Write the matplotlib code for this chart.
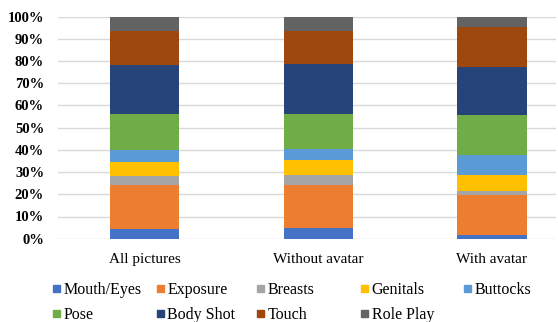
import numpy as np
import matplotlib.pyplot as plt
from matplotlib.patches import Rectangle
from matplotlib.ticker import PercentFormatter

plt.rcParams['font.family'] = ['Liberation Serif', 'DejaVu Serif']

groups = ["All pictures", "Without avatar", "With avatar"]
categories = ["Mouth/Eyes", "Exposure", "Breasts", "Genitals", "Buttocks",
              "Pose", "Body Shot", "Touch", "Role Play"]

# share of each category per group, in percent
mouth_eyes = [4.5, 4.8, 1.5]
exposure = [19.5, 19.4, 18.2]
breasts = [4.2, 4.6, 1.9]
genitals = [6.3, 6.5, 7.1]
buttocks = [5.4, 4.9, 8.8]
pose = [16.3, 16.0, 18.1]
body_shot = [22.0, 22.5, 21.9]
touch = [15.5, 15.0, 18.0]
role_play = [6.3, 6.3, 4.5]

series = [mouth_eyes, exposure, breasts, genitals, buttocks,
          pose, body_shot, touch, role_play]
colors = ["#4472C4", "#ED7D31", "#A5A5A5", "#FFC000", "#5B9BD5",
          "#70AD47", "#264478", "#9E480E", "#636363"]

W, H = 558, 322
fig = plt.figure(figsize=(W / 100, H / 100), dpi=100)
ax = fig.add_axes([58 / W, 1 - 238.7 / H, (556 - 58) / W, 222 / H])

x = np.arange(len(groups))
bottom = np.zeros(len(groups))
for name, vals, col in zip(categories, series, colors):
    ax.bar(x, vals, 0.4, bottom=bottom, color=col, label=name, zorder=3)
    bottom += np.array(vals)

ax.set_ylim(0, 100)
ax.set_xlim(-0.5, 2.37)
ax.set_yticks(np.arange(0, 101, 10))
ax.yaxis.set_major_formatter(PercentFormatter(decimals=0))
ax.set_xticks(x)
ax.set_xticklabels(groups, fontsize=11)
for lbl in ax.get_yticklabels():
    lbl.set_fontweight('bold')
    lbl.set_fontsize(10.5)
ax.tick_params(length=0)
ax.tick_params(axis='y', pad=10)
ax.tick_params(axis='x', pad=10)
ax.grid(axis='y', color='#D9D9D9', linewidth=1, zorder=0)
for s in ax.spines.values():
    s.set_visible(False)

# legend laid out row by row in fixed-width columns (pixel positions)
col_x = [53, 157, 257, 361, 464]
row_y = [288, 313]
for i, (name, col) in enumerate(zip(categories, colors)):
    r, c = divmod(i, 5)
    px, py = col_x[c], row_y[r]
    fig.add_artist(Rectangle((px / W, 1 - (py + 3.5) / H), 7 / W, 7 / H,
                             transform=fig.transFigure, color=col))
    fig.text((px + 10.5) / W, 1 - py / H, name, fontsize=11.5,
             va='center_baseline', ha='left')

fig.savefig("out.png", dpi=100)
